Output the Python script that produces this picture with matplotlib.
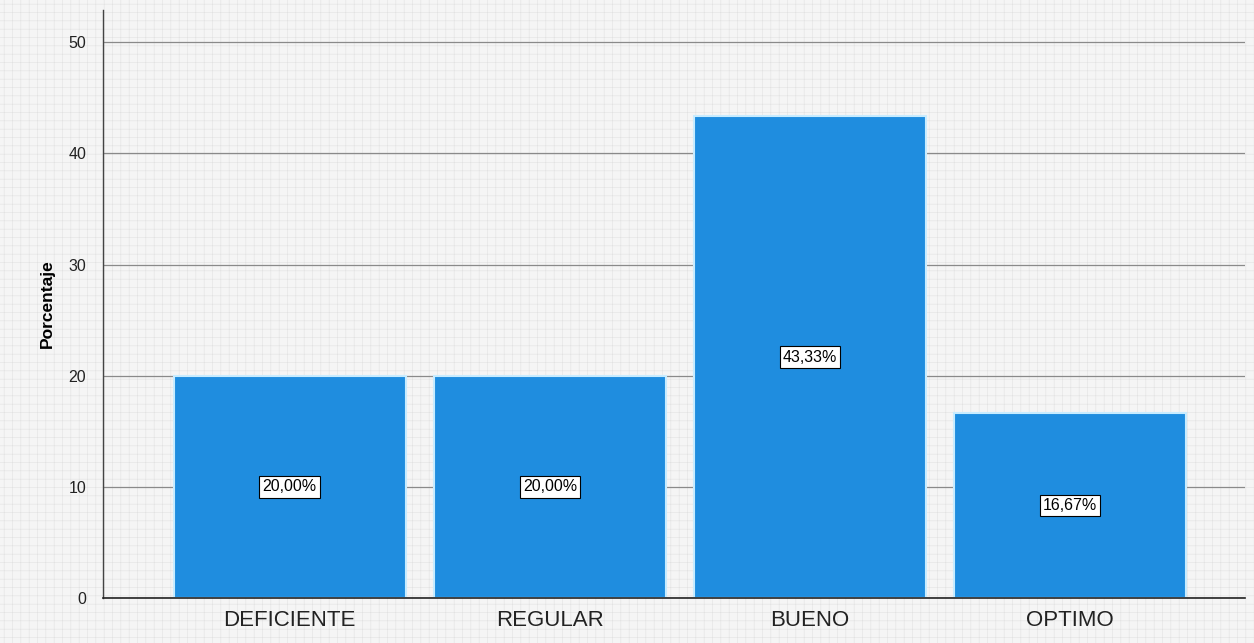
import matplotlib.pyplot as plt
from matplotlib.patches import Rectangle

categorias = ["DEFICIENTE", "REGULAR", "BUENO", "OPTIMO"]
porcentajes = [20.00, 20.00, 43.33, 16.67]
etiquetas = ["20,00%", "20,00%", "43,33%", "16,67%"]
y_ticks = [0, 10, 20, 30, 40, 50]

BAR = "#1f8ddf"
BG = "#f5f5f5"

plt.rcParams["font.family"] = ["Liberation Sans", "DejaVu Sans"]
plt.rcParams["hatch.linewidth"] = 0.4

fig = plt.figure(figsize=(12.54, 6.43), dpi=100, facecolor=BG)
# paper-like texture behind everything
fig.patches.append(Rectangle((0, 0), 1, 1, transform=fig.transFigure, facecolor=BG,
                             edgecolor="#e2e2e2", hatch="++", lw=0, zorder=-10))
ax = fig.add_axes([0.0821, 0.070, 0.911, 0.9145])
ax.patch.set_alpha(0)

x = range(len(categorias))
ax.bar(x, porcentajes, width=0.892, color=BAR, edgecolor="#c8ecff", lw=1.5, zorder=2)
for i, (v, lab) in enumerate(zip(porcentajes, etiquetas)):
    ax.text(i, v / 2, lab, ha="center", va="center", fontsize=11.5, zorder=4,
            bbox=dict(boxstyle="square,pad=0.2", fc="white", ec="black", lw=0.8))

ax.set_xlim(-0.718, 3.674)
ax.set_ylim(0, 52.9)
ax.set_yticks(y_ticks)
ax.set_xticks(list(x))
ax.set_xticklabels(categorias, fontsize=16, color="#222222")
ax.tick_params(axis="y", length=0, labelsize=11.5, pad=12, labelcolor="#222222")
ax.tick_params(axis="x", length=0, pad=9)
ax.grid(axis="y", color="#8a8a8a", lw=0.9, zorder=1)
ax.set_axisbelow(True)
for s in ("top", "right"):
    ax.spines[s].set_visible(False)
ax.spines["left"].set_color("#444444")
ax.spines["left"].set_linewidth(1.0)
ax.spines["bottom"].set_color("#222222")
ax.spines["bottom"].set_linewidth(1.2)
ax.set_ylabel("Porcentaje", fontsize=12.5, fontweight="bold", labelpad=10)

fig.savefig("out.png", dpi=100, facecolor=BG)
